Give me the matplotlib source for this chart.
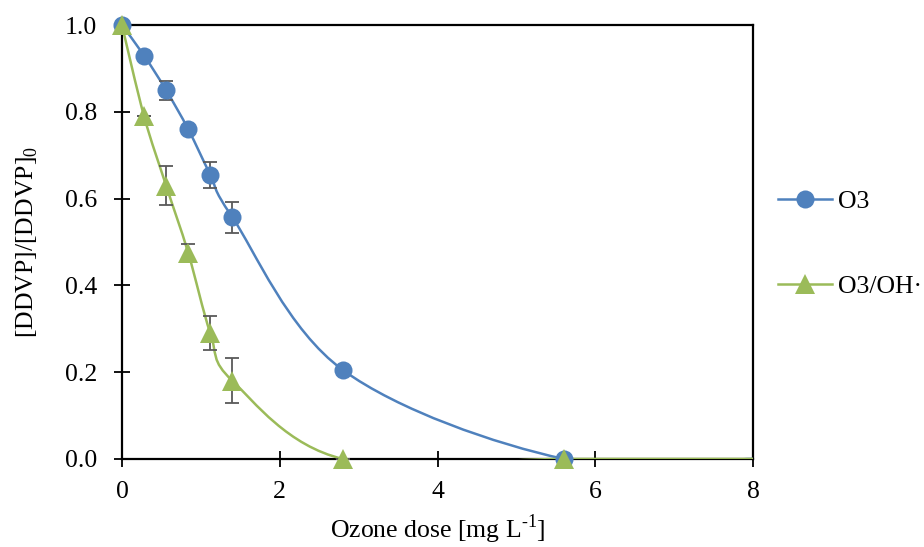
import numpy as np
import matplotlib
matplotlib.use("Agg")
import matplotlib.pyplot as plt
from matplotlib.path import Path
from matplotlib.patches import PathPatch
from matplotlib.lines import Line2D

plt.rcParams["font.family"] = ["Liberation Serif", "DejaVu Serif"]
plt.rcParams["mathtext.fontset"] = "custom"
plt.rcParams["mathtext.rm"] = "Liberation Serif"

# ---- data ----
dose = [0, 0.28, 0.56, 0.84, 1.12, 1.4, 2.8, 5.6, 8]
o3 = [1.0, 0.93, 0.85, 0.76, 0.655, 0.557, 0.205, 0.0, 0.0]
o3_err = [0, 0, 0.022, 0, 0.03, 0.036, 0, 0, 0]
o3oh = [1.0, 0.79, 0.63, 0.475, 0.29, 0.18, 0.0, 0.0, 0.0]
o3oh_err = [0, 0, 0.045, 0.02, 0.04, 0.052, 0, 0, 0]
# the point at dose 8 carries no marker in the original
n_marked = 8

BLUE = "#4F81BD"
GREEN = "#9BBB59"
ERR = "#595959"
FS = 18.5


def smooth_path(x, y):
    # Excel-style smoothed line: cubic Bezier through every point
    pts = np.column_stack([x, y]).astype(float)
    ext = np.vstack([pts[0], pts, pts[-1]])
    verts = [pts[0]]
    codes = [Path.MOVETO]
    for i in range(len(pts) - 1):
        p0, p1, p2, p3 = ext[i], ext[i + 1], ext[i + 2], ext[i + 3]
        verts += [p1 + (p2 - p0) / 6, p2 - (p3 - p1) / 6, p2]
        codes += [Path.CURVE4] * 3
    return Path(verts, codes)


fig = plt.figure(figsize=(9.24, 5.47), dpi=100)
ax = fig.add_axes([0.132, 0.161, 0.683, 0.793])

series = [
    ("O3", o3, o3_err, BLUE, "o", 13),
    ("O3/OH·", o3oh, o3oh_err, GREEN, "^", 14),
]
handles = []
for label, vals, err, color, marker, ms in series:
    # clipped to the plot area so the spline's small dip below zero stays hidden
    line = PathPatch(smooth_path(dose, vals), facecolor="none",
                     edgecolor=color, lw=1.8, zorder=3)
    ax.add_patch(line)
    ax.errorbar(dose[:n_marked], vals[:n_marked], yerr=err[:n_marked], fmt="none",
                ecolor=ERR, elinewidth=1.3, capsize=5, capthick=1.3, zorder=3.5)
    ax.plot(dose[:n_marked], vals[:n_marked], linestyle="none", marker=marker,
            markersize=ms, color=color, markeredgewidth=0, zorder=4, clip_on=False)
    handles.append(Line2D([], [], color=color, lw=1.8, marker=marker,
                          markersize=ms, markeredgewidth=0, label=label))

ax.set_xlim(0, 8)
ax.set_ylim(0, 1.0)
ax.set_xticks([0, 2, 4, 6, 8])
ax.set_yticks([0.0, 0.2, 0.4, 0.6, 0.8, 1.0])
ax.set_yticklabels(["0.0", "0.2", "0.4", "0.6", "0.8", "1.0"])
ax.tick_params(direction="inout", length=12, width=1.3, labelsize=FS,
               top=False, right=False)
ax.tick_params(axis="y", pad=12)
ax.tick_params(axis="x", pad=10)
for s in ax.spines.values():
    s.set_linewidth(1.6)
    s.set_color("black")

ax.set_xlabel("Ozone dose [mg L$^{\\text{-1}}$]", fontsize=FS, labelpad=7)
ax.set_ylabel("[DDVP]/[DDVP]$_{\\mathregular{0}}$", fontsize=FS, labelpad=18)

ax.legend(handles=handles, loc="center left", bbox_to_anchor=(1.003, 0.495),
          frameon=False, fontsize=FS, labelspacing=2.4, handlelength=2.1,
          handletextpad=0.25)

fig.savefig("out.png", dpi=100)
